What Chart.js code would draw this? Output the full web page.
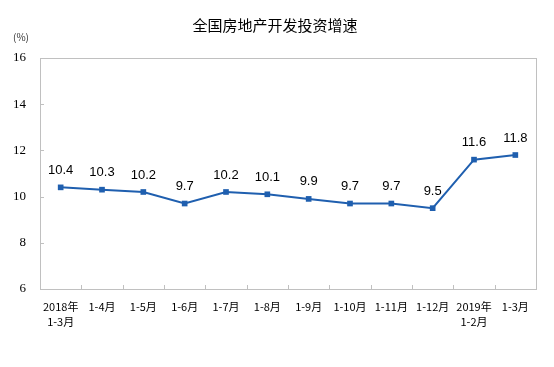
<!DOCTYPE html>
<html><head><meta charset="utf-8">
<script src="https://cdn.jsdelivr.net/npm/chart.js@4"></script>
<style>html,body{margin:0;padding:0;background:#fff}#wrap{width:554px;height:367px}</style>
</head><body><div id="wrap"><canvas id="c" width="554" height="367"></canvas></div>
<script>
const categories = [["2018年","1-3月"],"1-4月","1-5月","1-6月","1-7月","1-8月","1-9月","1-10月","1-11月","1-12月",["2019年","1-2月"],"1-3月"];
const growth = [10.4,10.3,10.2,9.7,10.2,10.1,9.9,9.7,9.7,9.5,11.6,11.8];
const yTicks = [6,8,10,12,14,16];
const titleText = "全国房地产开发投资增速";
const unitText = "(%)";

const lineColor = "#1f5faf";

const deco = {
  id: "deco",
  afterDraw(chart) {
    const ctx = chart.ctx, a = chart.chartArea;
    const xs = chart.scales.x, ys = chart.scales.y;
    ctx.save();
    ctx.fillStyle = "#000";
    ctx.font = "15px 'Noto Sans CJK SC'";
    ctx.textAlign = "center"; ctx.textBaseline = "middle";
    ctx.fillText(titleText, 275, 25);
    ctx.font = "10px 'Noto Sans CJK SC'";
    ctx.fillStyle = "#333";
    ctx.fillText(unitText, 21, 37);
    ctx.strokeStyle = "#c0c0c0"; ctx.lineWidth = 1;
    ctx.strokeRect(Math.round(a.left)+0.5, Math.round(a.top)+0.5, Math.round(a.right-a.left), Math.round(a.bottom-a.top));
    ctx.beginPath();
    for (const v of yTicks) {
      const y = Math.round(ys.getPixelForValue(v)) + 0.5;
      ctx.moveTo(a.left, y); ctx.lineTo(a.left + 4, y);
    }
    for (let i = 1; i < categories.length; i++) {
      const x = Math.round((xs.getPixelForValue(i-1) + xs.getPixelForValue(i)) / 2) + 0.5;
      ctx.moveTo(x, a.bottom); ctx.lineTo(x, a.bottom - 4);
    }
    ctx.stroke();
    const meta = chart.getDatasetMeta(0);
    ctx.fillStyle = "#000";
    ctx.font = "13px 'Liberation Sans'";
    ctx.textAlign = "center"; ctx.textBaseline = "middle";
    meta.data.forEach((pt, i) => {
      ctx.fillText(growth[i].toFixed(1), pt.x, pt.y - 17);
    });
    ctx.restore();
  }
};

new Chart(document.getElementById("c"), {
  type: "line",
  data: {
    labels: categories,
    datasets: [{
      data: growth,
      borderColor: lineColor,
      backgroundColor: lineColor,
      borderWidth: 2,
      pointStyle: "rect",
      pointRadius: 4,
      pointBorderWidth: 0,
      tension: 0
    }]
  },
  options: {
    responsive: false,
    animation: false,
    layout: { padding: { top: 58, right: 18, left: 0, bottom: 0 } },
    plugins: { legend: { display: false }, title: { display: false }, tooltip: { enabled: false } },
    scales: {
      x: {
        offset: true,
        grid: { display: false, drawTicks: false },
        border: { display: false },
        ticks: { color: "#000", font: { family: "'Noto Sans CJK SC'", size: 11, lineHeight: 1.3 }, padding: 11, maxRotation: 0, autoSkip: false },
        afterFit(s) { s.height = 78; }
      },
      y: {
        min: 6, max: 16,
        afterBuildTicks(s) { s.ticks = yTicks.map(v => ({ value: v })); },
        grid: { display: false, drawTicks: false },
        border: { display: false },
        ticks: { color: "#000", font: { family: "'Liberation Serif'", size: 13 }, padding: 14 },
        afterFit(s) { s.width = 40; }
      }
    }
  },
  plugins: [deco]
});
</script>
</body></html>
